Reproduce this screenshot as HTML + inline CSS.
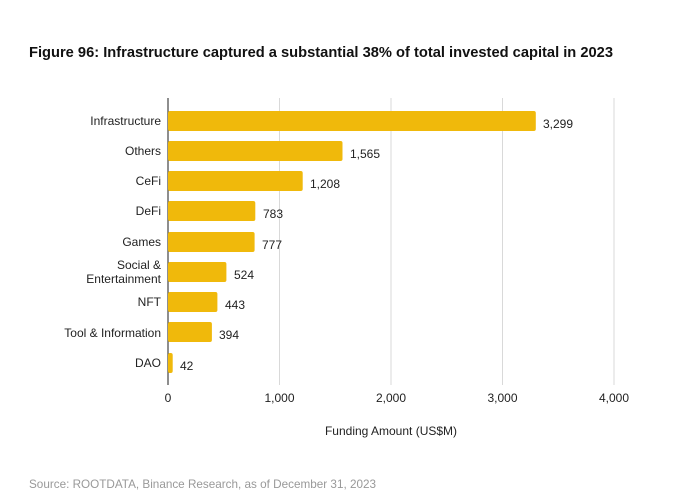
<!DOCTYPE html>
<html><head><style>body{margin:0;background:#fff;}svg{display:block;font-family:"Liberation Sans",Arial,sans-serif;}</style></head><body>
<svg width="674" height="499" xmlns="http://www.w3.org/2000/svg">
<text x="29" y="57" font-size="14.6" font-weight="bold" fill="#111" textLength="584" lengthAdjust="spacingAndGlyphs">Figure 96: Infrastructure captured a substantial 38% of total invested capital in 2023</text>
<g stroke="#d9d9d9" stroke-width="1">
<line x1="279.5" y1="98" x2="279.5" y2="385"/><line x1="391" y1="98" x2="391" y2="385"/><line x1="502.5" y1="98" x2="502.5" y2="385"/><line x1="614" y1="98" x2="614" y2="385"/>
</g>
<line x1="168" y1="98" x2="168" y2="385" stroke="#444" stroke-width="1.2"/>
<g fill="#F0B90B">
<rect x="168" y="111" width="367.8" height="20" rx="2"/>
<rect x="168" y="141" width="174.5" height="20" rx="2"/>
<rect x="168" y="171" width="134.7" height="20" rx="2"/>
<rect x="168" y="201" width="87.3" height="20" rx="2"/>
<rect x="168" y="232" width="86.6" height="20" rx="2"/>
<rect x="168" y="262" width="58.4" height="20" rx="2"/>
<rect x="168" y="292" width="49.4" height="20" rx="2"/>
<rect x="168" y="322" width="43.9" height="20" rx="2"/>
<rect x="168" y="353" width="4.7" height="20" rx="2"/>
</g>
<g font-size="12" fill="#222" text-anchor="end">
<text x="161" y="125">Infrastructure</text>
<text x="161" y="155">Others</text>
<text x="161" y="185">CeFi</text>
<text x="161" y="215">DeFi</text>
<text x="161" y="246">Games</text>
<text x="161" y="269">Social &amp;</text>
<text x="161" y="283">Entertainment</text>
<text x="161" y="306">NFT</text>
<text x="161" y="337">Tool &amp; Information</text>
<text x="161" y="367">DAO</text>
</g>
<g font-size="12" fill="#222">
<text x="543" y="128">3,299</text>
<text x="350" y="158">1,565</text>
<text x="310" y="188">1,208</text>
<text x="263" y="218">783</text>
<text x="262" y="249">777</text>
<text x="234" y="279">524</text>
<text x="225" y="309">443</text>
<text x="219" y="339">394</text>
<text x="180" y="370">42</text>
</g>
<g font-size="12" fill="#222" text-anchor="middle">
<text x="168" y="402">0</text><text x="279.5" y="402">1,000</text><text x="391" y="402">2,000</text><text x="502.5" y="402">3,000</text><text x="614" y="402">4,000</text>
<text x="391" y="435">Funding Amount (US$M)</text>
</g>
<text x="29" y="488" font-size="11.7" fill="#999" textLength="347" lengthAdjust="spacingAndGlyphs">Source: ROOTDATA, Binance Research, as of December 31, 2023</text>
</svg></body></html>
